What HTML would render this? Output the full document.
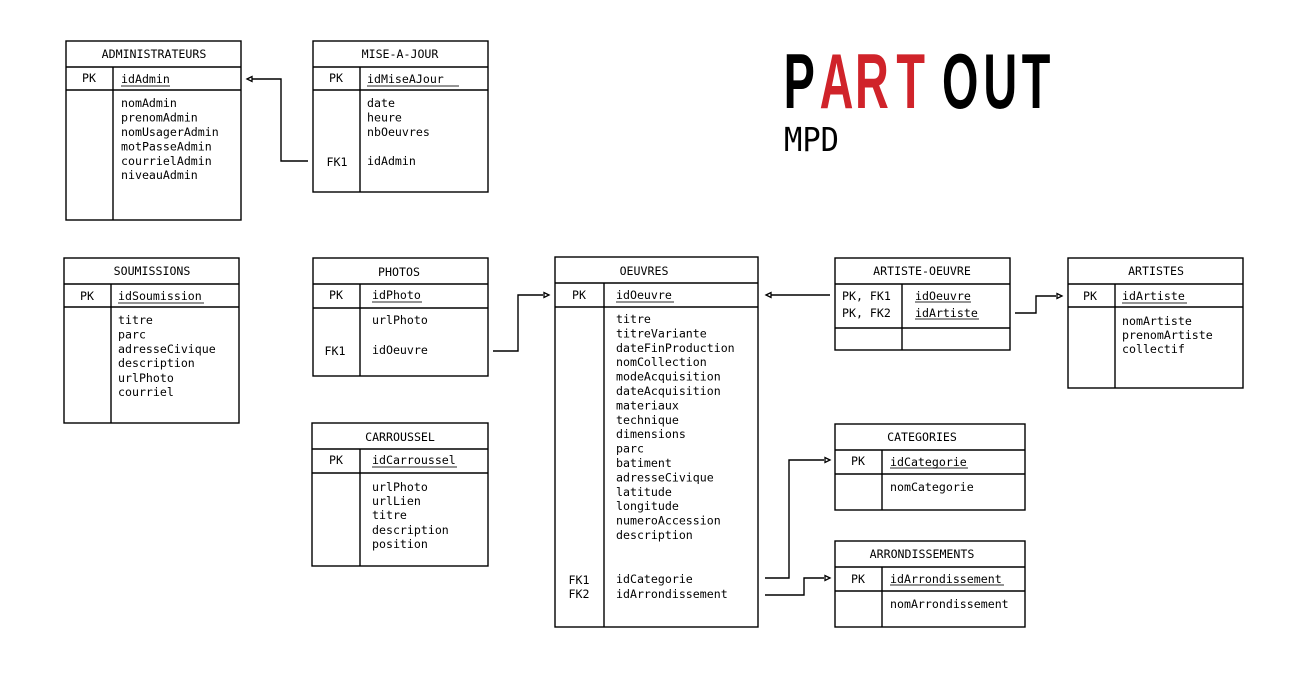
<!DOCTYPE html>
<html><head><meta charset="utf-8"><style>
html,body{margin:0;padding:0;background:#fff;width:1296px;height:688px;overflow:hidden}
svg text{font-family:"DejaVu Sans Mono","Liberation Mono",monospace;font-size:11.6px;fill:#000}
.h{text-anchor:middle}
.c{text-anchor:middle}
</style></head><body>
<svg width="1296" height="688" viewBox="0 0 1296 688" xmlns="http://www.w3.org/2000/svg">
<g fill="none" stroke="#000" stroke-width="1.4">
<rect x="66" y="41" width="175" height="179"/><line x1="66" y1="67" x2="241" y2="67"/><line x1="66" y1="90" x2="241" y2="90"/><line x1="113" y1="67" x2="113" y2="220"/>
<rect x="313" y="41" width="175" height="151"/><line x1="313" y1="67" x2="488" y2="67"/><line x1="313" y1="90" x2="488" y2="90"/><line x1="360" y1="67" x2="360" y2="192"/>
<rect x="64" y="258" width="175" height="165"/><line x1="64" y1="284" x2="239" y2="284"/><line x1="64" y1="307" x2="239" y2="307"/><line x1="111" y1="284" x2="111" y2="423"/>
<rect x="313" y="258" width="175" height="118"/><line x1="313" y1="284" x2="488" y2="284"/><line x1="313" y1="308" x2="488" y2="308"/><line x1="360" y1="284" x2="360" y2="376"/>
<rect x="312" y="423" width="176" height="143"/><line x1="312" y1="449" x2="488" y2="449"/><line x1="312" y1="473" x2="488" y2="473"/><line x1="360" y1="449" x2="360" y2="566"/>
<rect x="555" y="257" width="203" height="370"/><line x1="555" y1="283" x2="758" y2="283"/><line x1="555" y1="307" x2="758" y2="307"/><line x1="604" y1="283" x2="604" y2="627"/>
<rect x="835" y="258" width="175" height="92"/><line x1="835" y1="284" x2="1010" y2="284"/><line x1="835" y1="328" x2="1010" y2="328"/><line x1="902" y1="284" x2="902" y2="350"/>
<rect x="1068" y="258" width="175" height="130"/><line x1="1068" y1="284" x2="1243" y2="284"/><line x1="1068" y1="307" x2="1243" y2="307"/><line x1="1115" y1="284" x2="1115" y2="388"/>
<rect x="835" y="424" width="190" height="86"/><line x1="835" y1="450" x2="1025" y2="450"/><line x1="835" y1="474" x2="1025" y2="474"/><line x1="882" y1="450" x2="882" y2="510"/>
<rect x="835" y="541" width="190" height="86"/><line x1="835" y1="567" x2="1025" y2="567"/><line x1="835" y1="591" x2="1025" y2="591"/><line x1="882" y1="567" x2="882" y2="627"/>
<polyline points="308,161 281,161 281,79 252,79"/>
<polyline points="493,351 518,351 518,295 543,295"/>
<polyline points="830,295 771,295"/>
<polyline points="1015,313 1036,313 1036,296 1056,296"/>
<polyline points="765,578 789,578 789,460 824,460"/>
<polyline points="765,595 804,595 804,578 824,578"/>
<g stroke="#555" stroke-width="1.2">
<line x1="121" y1="86" x2="170" y2="86"/>
<line x1="367" y1="86" x2="459" y2="86"/>
<line x1="118" y1="303" x2="204" y2="303"/>
<line x1="372" y1="302" x2="422" y2="302"/>
<line x1="372" y1="467" x2="457" y2="467"/>
<line x1="616" y1="302" x2="674" y2="302"/>
<line x1="915" y1="302" x2="971" y2="302"/>
<line x1="915" y1="319" x2="979" y2="319"/>
<line x1="1122" y1="303" x2="1187" y2="303"/>
<line x1="890" y1="468" x2="968" y2="468"/>
<line x1="890" y1="585" x2="1004" y2="585"/>
</g>
</g>
<g fill="#fff" stroke="#000" stroke-width="1.3">
<polygon points="247,79 252,76.5 252,81.5"/>
<polygon points="549,295 544,292.5 544,297.5"/>
<polygon points="766,295 771,292.5 771,297.5"/>
<polygon points="1062,296 1057,293.5 1057,298.5"/>
<polygon points="830,460 825,457.5 825,462.5"/>
<polygon points="830,578 825,575.5 825,580.5"/>
</g>
<text class="h" x="154" y="58">ADMINISTRATEURS</text>
<text class="c" x="89" y="82">PK</text>
<text x="121" y="83">idAdmin</text>
<text x="121" y="107">nomAdmin</text><text x="121" y="121.5">prenomAdmin</text><text x="121" y="136">nomUsagerAdmin</text><text x="121" y="150.5">motPasseAdmin</text><text x="121" y="165">courrielAdmin</text><text x="121" y="179">niveauAdmin</text>
<text class="h" x="400" y="58">MISE-A-JOUR</text>
<text class="c" x="336" y="82">PK</text>
<text x="367" y="83">idMiseAJour</text>
<text x="367" y="107">date</text><text x="367" y="121.5">heure</text><text x="367" y="136">nbOeuvres</text>
<text class="c" x="337" y="166">FK1</text><text x="367" y="165">idAdmin</text>
<text class="h" x="152" y="275">SOUMISSIONS</text>
<text class="c" x="87" y="300">PK</text>
<text x="118" y="300">idSoumission</text>
<text x="118" y="324">titre</text><text x="118" y="338.5">parc</text><text x="118" y="353">adresseCivique</text><text x="118" y="367">description</text><text x="118" y="382">urlPhoto</text><text x="118" y="396">courriel</text>
<text class="h" x="399" y="276">PHOTOS</text>
<text class="c" x="336" y="299">PK</text>
<text x="372" y="299">idPhoto</text>
<text x="372" y="324">urlPhoto</text>
<text class="c" x="335" y="355">FK1</text><text x="372" y="354">idOeuvre</text>
<text class="h" x="400" y="441">CARROUSSEL</text>
<text class="c" x="336" y="464">PK</text>
<text x="372" y="464">idCarroussel</text>
<text x="372" y="491">urlPhoto</text><text x="372" y="505">urlLien</text><text x="372" y="519">titre</text><text x="372" y="534">description</text><text x="372" y="548">position</text>
<text class="h" x="644" y="275">OEUVRES</text>
<text class="c" x="579" y="299">PK</text>
<text x="616" y="299">idOeuvre</text>
<text x="616" y="323">titre</text><text x="616" y="337.4">titreVariante</text><text x="616" y="351.8">dateFinProduction</text><text x="616" y="366.2">nomCollection</text><text x="616" y="380.6">modeAcquisition</text><text x="616" y="395">dateAcquisition</text><text x="616" y="409.4">materiaux</text><text x="616" y="423.8">technique</text><text x="616" y="438.2">dimensions</text><text x="616" y="452.6">parc</text><text x="616" y="467">batiment</text><text x="616" y="481.4">adresseCivique</text><text x="616" y="495.8">latitude</text><text x="616" y="510.2">longitude</text><text x="616" y="524.6">numeroAccession</text><text x="616" y="539">description</text>
<text class="c" x="579" y="584">FK1</text><text x="616" y="583">idCategorie</text>
<text class="c" x="579" y="598">FK2</text><text x="616" y="598">idArrondissement</text>
<text class="h" x="922" y="275">ARTISTE-OEUVRE</text>
<text x="842" y="300">PK, FK1</text><text x="915" y="300">idOeuvre</text>
<text x="842" y="317">PK, FK2</text><text x="915" y="317">idArtiste</text>
<text class="h" x="1156" y="275">ARTISTES</text>
<text class="c" x="1090" y="300">PK</text>
<text x="1122" y="300">idArtiste</text>
<text x="1122" y="325">nomArtiste</text><text x="1122" y="339">prenomArtiste</text><text x="1122" y="353">collectif</text>
<text class="h" x="922" y="441">CATEGORIES</text>
<text class="c" x="858" y="465">PK</text>
<text x="890" y="466">idCategorie</text>
<text x="890" y="491">nomCategorie</text>
<text class="h" x="922" y="558">ARRONDISSEMENTS</text>
<text class="c" x="858" y="583">PK</text>
<text x="890" y="583">idArrondissement</text>
<text x="890" y="608">nomArrondissement</text>
<g transform="scale(0.6,1)">
<text y="108" style="font-family:'Liberation Sans',sans-serif;font-weight:bold;font-size:78px"><tspan x="1306">P</tspan><tspan x="1366" style="fill:#d0232a">A</tspan><tspan x="1425" style="fill:#d0232a">R</tspan><tspan x="1494" style="fill:#d0232a">T</tspan><tspan x="1570">O</tspan><tspan x="1639">U</tspan><tspan x="1703">T</tspan></text>
</g>
<text x="784" y="151" textLength="55" lengthAdjust="spacingAndGlyphs" style="font-size:33px">MPD</text>
</svg>
</body></html>
